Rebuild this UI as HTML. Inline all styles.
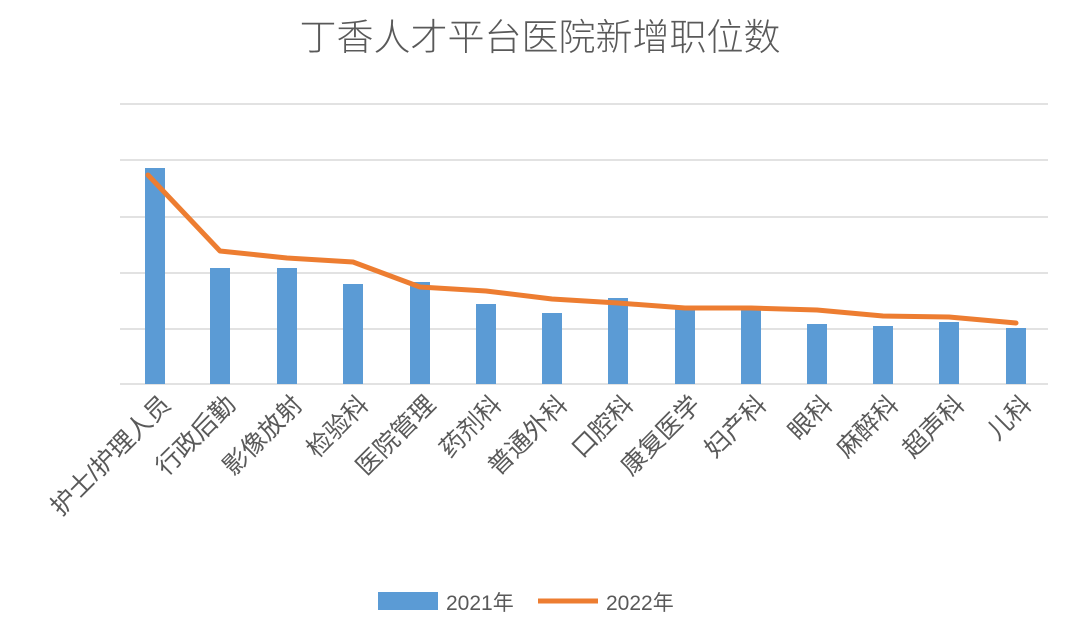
<!DOCTYPE html>
<html><head><meta charset="utf-8"><style>
body{margin:0;background:#fff;}
svg text{font-family:"Liberation Sans","Noto Sans CJK SC",sans-serif;fill:#595959;}
</style></head><body>
<svg width="1080" height="634" viewBox="0 0 1080 634" xmlns="http://www.w3.org/2000/svg">
<rect width="1080" height="634" fill="#fff"/>
<text x="540" y="50" font-size="37" text-anchor="middle" fill="#666" font-weight="300">丁香人才平台医院新增职位数</text>
<g stroke="#d9d9d9" stroke-width="1.5">
<line x1="120" y1="104" x2="1048" y2="104"/>
<line x1="120" y1="160" x2="1048" y2="160"/>
<line x1="120" y1="217" x2="1048" y2="217"/>
<line x1="120" y1="273" x2="1048" y2="273"/>
<line x1="120" y1="329" x2="1048" y2="329"/>
<line x1="120" y1="384" x2="1048" y2="384"/>
</g>
<g fill="#5b9bd5">
<rect x="145" y="168" width="20" height="216"/>
<rect x="210" y="268" width="20" height="116"/>
<rect x="277" y="268" width="20" height="116"/>
<rect x="343" y="284" width="20" height="100"/>
<rect x="410" y="282" width="20" height="102"/>
<rect x="476" y="304" width="20" height="80"/>
<rect x="542" y="313" width="20" height="71"/>
<rect x="608" y="298" width="20" height="86"/>
<rect x="675" y="309" width="20" height="75"/>
<rect x="741" y="308" width="20" height="76"/>
<rect x="807" y="324" width="20" height="60"/>
<rect x="873" y="326" width="20" height="58"/>
<rect x="939" y="322" width="20" height="62"/>
<rect x="1006" y="328" width="20" height="56"/>
</g>
<polyline fill="none" stroke="#ed7d31" stroke-width="5" stroke-linejoin="round" stroke-linecap="round"
points="148,175 220,251 287,258 353,262 420,287 486,291 552,299 618,303 685,308 751,308 817,310 883,316 949,317 1016,323"/>
<g font-size="25" text-anchor="end">
<text transform="translate(172,406) rotate(-45)">护士/护理人员</text>
<text transform="translate(237,406) rotate(-45)">行政后勤</text>
<text transform="translate(304,406) rotate(-45)">影像放射</text>
<text transform="translate(370,406) rotate(-45)">检验科</text>
<text transform="translate(437,406) rotate(-45)">医院管理</text>
<text transform="translate(503,406) rotate(-45)">药剂科</text>
<text transform="translate(569,406) rotate(-45)">普通外科</text>
<text transform="translate(635,406) rotate(-45)">口腔科</text>
<text transform="translate(702,406) rotate(-45)">康复医学</text>
<text transform="translate(768,406) rotate(-45)">妇产科</text>
<text transform="translate(834,406) rotate(-45)">眼科</text>
<text transform="translate(900,406) rotate(-45)">麻醉科</text>
<text transform="translate(966,406) rotate(-45)">超声科</text>
<text transform="translate(1033,406) rotate(-45)">儿科</text>
</g>
<rect x="378" y="592" width="60" height="18" fill="#5b9bd5"/>
<text x="446" y="610" font-size="21">2021年</text>
<line x1="538" y1="601" x2="598" y2="601" stroke="#ed7d31" stroke-width="5"/>
<text x="606" y="610" font-size="21">2022年</text>
</svg>
</body></html>
